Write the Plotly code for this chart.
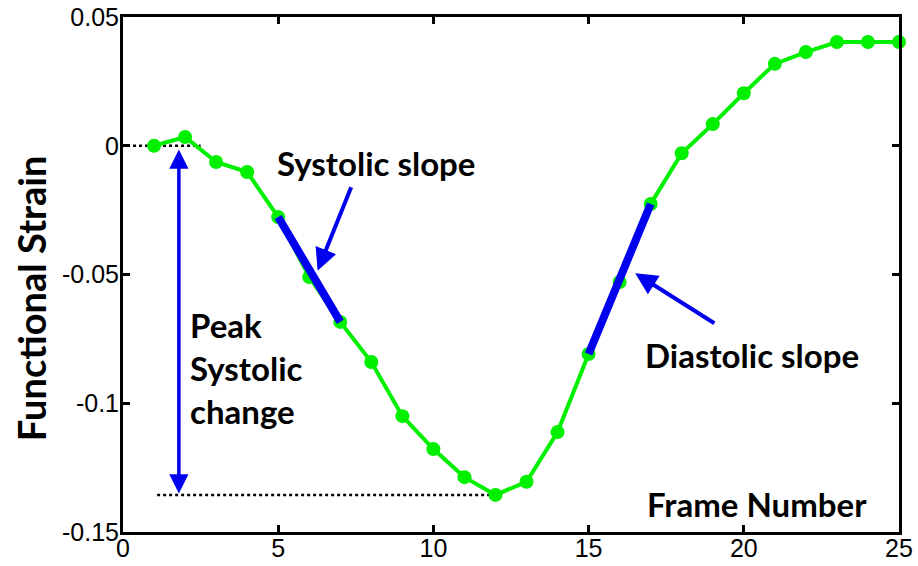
import plotly.graph_objects as go

# Frame-by-frame functional strain curve
frames = list(range(1, 26))
strain = [0.0, 0.0034, -0.0063, -0.0102, -0.0277, -0.051, -0.0684, -0.084, -0.105,
          -0.1178, -0.1287, -0.1356, -0.1305, -0.1112, -0.0809, -0.0529, -0.0226,
          -0.0029, 0.0084, 0.0204, 0.0318, 0.0364, 0.0403, 0.0403, 0.0403]

x_ticks = [0, 5, 10, 15, 20, 25]
y_ticks = [-0.15, -0.1, -0.05, 0, 0.05]
y_tick_text = ["-0.15", "-0.1", "-0.05", "0", "0.05"]

# frames spanned by the slope segments
systolic_frames = [5, 7]
diastolic_frames = [15, 17]

peak_frame = frames[strain.index(min(strain))]
peak_value = min(strain)
baseline = strain[0]


def seg(fr):
    return fr, [strain[frames.index(f)] for f in fr]


fig = go.Figure()

# reference dotted lines (baseline and peak)
fig.add_trace(go.Scatter(x=[0.13, 2.5], y=[baseline, baseline], mode="lines",
                         line=dict(color="black", width=2.5, dash="dot"),
                         showlegend=False, hoverinfo="skip"))
fig.add_trace(go.Scatter(x=[1.1, peak_frame], y=[peak_value, peak_value], mode="lines",
                         line=dict(color="black", width=2.5, dash="dot"),
                         showlegend=False, hoverinfo="skip"))

green = "#00f000"
fig.add_trace(go.Scatter(x=frames, y=strain, mode="lines+markers",
                         line=dict(color=green, width=4),
                         marker=dict(color=green, size=14),
                         cliponaxis=False, showlegend=False))

blue = "#0000ee"
for fr in (systolic_frames, diastolic_frames):
    sx, sy = seg(fr)
    fig.add_trace(go.Scatter(x=sx, y=sy, mode="lines",
                             line=dict(color=blue, width=8),
                             showlegend=False, hoverinfo="skip"))

label_font = dict(family="Lato, Open Sans, sans-serif", size=33, color="black")

annotations = [
    # systolic slope arrow
    dict(x=6.27, y=-0.0485, ax=7.37, ay=-0.0155, xref="x", yref="y", axref="x", ayref="y",
         showarrow=True, arrowhead=2, arrowsize=1.1, arrowwidth=4, arrowcolor=blue, text=""),
    # diastolic slope arrow
    dict(x=16.5, y=-0.0495, ax=19.1, ay=-0.0693, xref="x", yref="y", axref="x", ayref="y",
         showarrow=True, arrowhead=2, arrowsize=1.1, arrowwidth=4, arrowcolor=blue, text=""),
    # peak systolic change double arrow
    dict(x=1.8, y=baseline - 0.0015, ax=1.8, ay=peak_value, xref="x", yref="y",
         axref="x", ayref="y", showarrow=True, arrowhead=2, startarrowhead=2,
         arrowside="end+start", arrowsize=1.1, startarrowsize=1.1,
         arrowwidth=3.5, arrowcolor=blue, text=""),
    dict(x=8.15, y=-0.0068, xref="x", yref="y", text="<b>Systolic slope</b>",
         showarrow=False, font=label_font),
    dict(x=20.26, y=-0.0813, xref="x", yref="y", text="<b>Diastolic slope</b>",
         showarrow=False, font=label_font),
    dict(x=2.09, y=-0.0862, xref="x", yref="y", xanchor="left", yanchor="middle",
         text="<b>Peak<br>Systolic<br>change</b>", align="left",
         showarrow=False, font=label_font),
    dict(x=20.43, y=-0.1392, xref="x", yref="y", text="<b>Frame Number</b>",
         showarrow=False, font=label_font),
    dict(x=-0.1186, y=0.454, xref="paper", yref="paper", xanchor="center", yanchor="middle",
         text="<b>Functional Strain</b>", textangle=-90, showarrow=False,
         font=dict(family="Lato, Open Sans, sans-serif", size=38, color="black")),
]

axis_common = dict(showline=True, linecolor="black", linewidth=3, mirror="ticks",
                   ticks="inside", ticklen=7, tickwidth=2.5, tickcolor="black",
                   showgrid=False, zeroline=False, automargin=False,
                   tickfont=dict(family="Liberation Sans, Arial, sans-serif",
                                 size=25, color="black"))

fig.update_layout(
    width=918, height=566,
    margin=dict(l=123, r=19, t=17, b=34),
    paper_bgcolor="white", plot_bgcolor="white",
    xaxis=dict(range=[0, 25], tickvals=x_ticks, ticklabelstandoff=-8, **axis_common),
    yaxis=dict(range=[-0.15, 0.05], tickvals=y_ticks, ticktext=y_tick_text,
               ticklabelstandoff=-4, **axis_common),
    annotations=annotations,
)

fig.write_html("out.html")
